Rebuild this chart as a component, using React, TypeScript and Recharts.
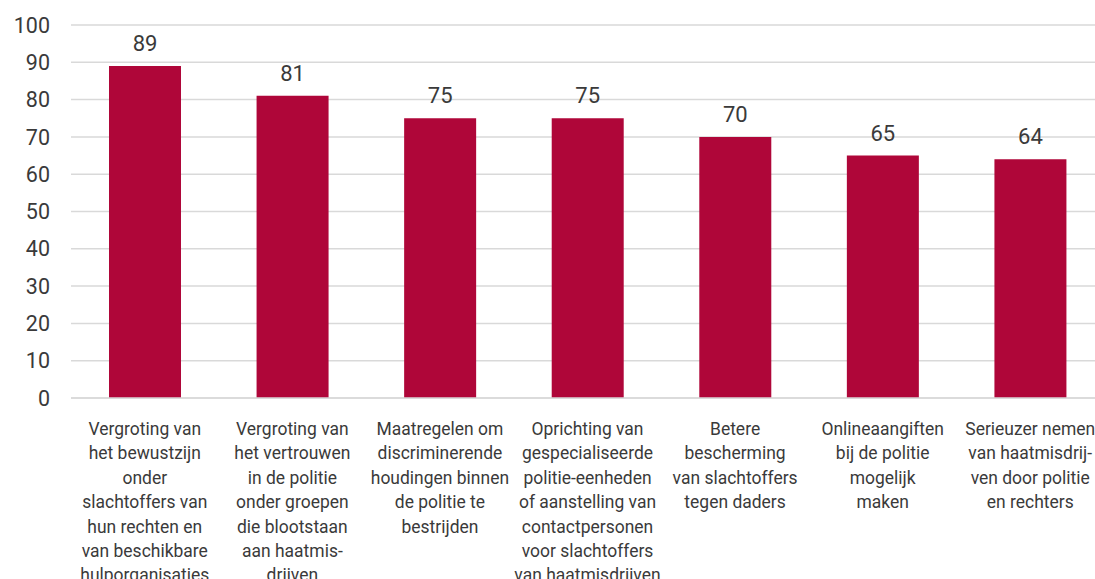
import { BarChart, Bar, XAxis, YAxis, CartesianGrid, LabelList } from "recharts";

const categories = [
  "Vergroting van\nhet bewustzijn\nonder\nslachtoffers van\nhun rechten en\nvan beschikbare\nhulporganisaties",
  "Vergroting van\nhet vertrouwen\nin de politie\nonder groepen\ndie blootstaan\naan haatmis-\ndrijven",
  "Maatregelen om\ndiscriminerende\nhoudingen binnen\nde politie te\nbestrijden",
  "Oprichting van\ngespecialiseerde\npolitie-eenheden\nof aanstelling van\ncontactpersonen\nvoor slachtoffers\nvan haatmisdrijven",
  "Betere\nbescherming\nvan slachtoffers\ntegen daders",
  "Onlineaangiften\nbij de politie\nmogelijk\nmaken",
  "Serieuzer nemen\nvan haatmisdrij-\nven door politie\nen rechters",
];

const values = [89, 81, 75, 75, 70, 65, 64];

const yTicks = [0, 10, 20, 30, 40, 50, 60, 70, 80, 90, 100];

const data = categories.map((name, i) => ({ name, value: values[i] }));

const font = "Roboto, sans-serif";

// narrow the category labels a little, like the condensed face in the original
function CategoryTick({ x, y, payload }: any) {
  const lines = String(payload.value).split("\n");
  return (
    <g transform={`translate(${x},${y}) scale(0.92,1)`}>
      <text x={0} y={0} textAnchor="middle" fill="#3a3a3a" fontFamily={font} fontSize={19}>
        {lines.map((line: string, i: number) => (
          <tspan key={i} x={0} dy={i === 0 ? 37 : 24.4}>
            {line}
          </tspan>
        ))}
      </text>
    </g>
  );
}

export default function App() {
  return (
    <div style={{ position: "absolute", left: 0, top: 0, width: 1095, height: 579, overflow: "hidden", background: "#fff" }}>
      <BarChart
        width={1104}
        height={579}
        data={data}
        margin={{ top: 25, right: 0, bottom: 0, left: 0 }}
        barSize={72}
      >
        <CartesianGrid vertical={false} stroke="#d9d9d9" strokeWidth={1.5} />
        <XAxis
          dataKey="name"
          interval={0}
          height={181}
          tickLine={false}
          axisLine={{ stroke: "#d9d9d9", strokeWidth: 1.5 }}
          tick={<CategoryTick />}
          tickSize={0}
          tickMargin={0}
        />
        <YAxis
          domain={[0, 100]}
          ticks={yTicks}
          width={71}
          axisLine={false}
          tickLine={false}
          tickSize={0}
          tickMargin={21}
          tick={{ fill: "#3a3a3a", fontSize: 21.5, fontFamily: font }}
        />
        <Bar dataKey="value" fill="#af0639" isAnimationActive={false}>
          <LabelList
            dataKey="value"
            position="top"
            offset={15}
            fill="#3a3a3a"
            fontSize={22}
            fontFamily={font}
          />
        </Bar>
      </BarChart>
    </div>
  );
}
